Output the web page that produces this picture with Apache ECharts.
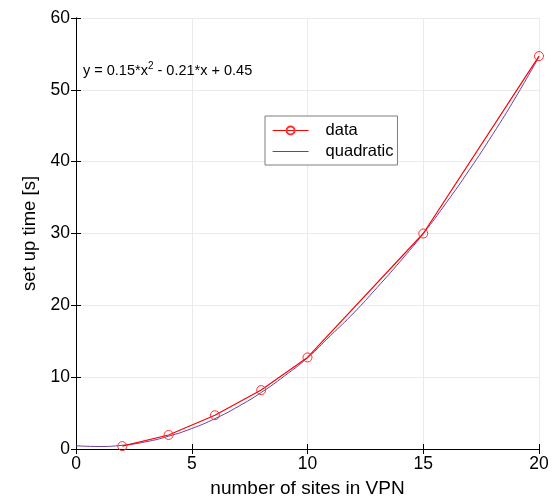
<!DOCTYPE html>
<html>
<head>
<meta charset="utf-8">
<script src="https://cdn.jsdelivr.net/npm/echarts@6/dist/echarts.min.js"></script>
<style>
  html, body { margin: 0; padding: 0; background: #fff; }
  #chart { width: 553px; height: 500px; }
</style>
</head>
<body>
<div id="chart"></div>
<script>
// measured points
var sites = [2, 4, 6, 8, 10, 15, 20];
var setupTime = [0.4, 1.95, 4.7, 8.2, 12.75, 30.0, 54.7];

// fitted curve
var fitX = [0, 1, 2, 3, 4, 5, 6, 7, 8, 9, 10, 11, 12, 13, 14, 15, 16, 17, 18, 19, 20];
var fitY = [0.45, 0.35, 0.52, 0.99, 1.78, 2.85, 4.22, 5.9, 7.86, 10.15, 12.7,
            15.8, 18.95, 22.45, 26.1, 29.98, 34.3, 38.9, 43.8, 49.0, 54.6];

var xTicks = [0, 20, 5];   // min, max, step
var yTicks = [0, 60, 10];

function pairs(xs, ys) {
	var out = [];
	for (var i = 0; i < xs.length; i++) out.push([xs[i], ys[i]]);
	return out;
}

var myChart = echarts.init(document.getElementById('chart'));
var font = 'Liberation Sans, Arial, sans-serif';

var axisCommon = {
	type: 'value',
	axisLine: { show: true, lineStyle: { color: '#000', width: 1 } },
	axisTick: { show: true, inside: true, length: 5, lineStyle: { color: '#000' } },
	splitLine: { show: false }
};

var option = {
	animation: false,
	backgroundColor: '#fff',
	title: {
		text: 'y = 0.15*x{sup|2} - 0.21*x + 0.45',
		left: 78,
		top: 56,
		textStyle: {
			fontFamily: font,
			fontSize: 14.5,
			fontWeight: 'normal',
			color: '#000',
			rich: {
				sup: { fontFamily: font, fontSize: 10, color: '#000', verticalAlign: 'top', padding: [0, 0, 9, 0] }
			}
		}
	},
	legend: {
		orient: 'vertical',
		left: 265,
		top: 116,
		padding: [6, 4, 5, 7],
		itemGap: 4,
		itemWidth: 36,
		itemHeight: 10,
		borderColor: '#7f7f7f',
		borderWidth: 1,
		borderRadius: 0,
		backgroundColor: '#fff',
		textStyle: { fontFamily: font, fontSize: 16.5, color: '#000', padding: [0, 0, 0, 12] },
		data: [
			{ name: 'data', lineStyle: { width: 1.2 } },
			{ name: 'quadratic', itemStyle: { opacity: 0 }, lineStyle: { width: 1 } }
		]
	},
	grid: { left: 76, right: 14, top: 18, bottom: 51, outerBoundsMode: 'none' },
	xAxis: [
		Object.assign({}, axisCommon, {
			min: xTicks[0], max: xTicks[1], interval: xTicks[2],
			position: 'bottom',
			name: 'number of sites in VPN',
			nameLocation: 'middle',
			nameGap: 30,
			nameTextStyle: { fontFamily: font, fontSize: 19, color: '#000' },
			axisLabel: { fontFamily: font, fontSize: 17.5, color: '#000', margin: 6 },
			splitLine: { show: true, lineStyle: { color: '#ebebeb' } }
		}),
		Object.assign({}, axisCommon, {
			min: xTicks[0], max: xTicks[1], interval: xTicks[2],
			position: 'top',
			axisLabel: { show: false }
		})
	],
	yAxis: [
		Object.assign({}, axisCommon, {
			min: yTicks[0], max: yTicks[1], interval: yTicks[2],
			position: 'left',
			name: 'set up time [s]',
			nameLocation: 'middle',
			nameGap: 34,
			nameTextStyle: { fontFamily: font, fontSize: 18.5, color: '#000' },
			axisLabel: { fontFamily: font, fontSize: 17.5, color: '#000', margin: 6 },
			splitLine: { show: true, lineStyle: { color: '#ebebeb' } }
		}),
		Object.assign({}, axisCommon, {
			min: yTicks[0], max: yTicks[1], interval: yTicks[2],
			position: 'right',
			axisLabel: { show: false }
		})
	],
	series: [
		{
			name: 'quadratic',
			type: 'line',
			data: pairs(fitX, fitY),
			smooth: true,
			showSymbol: false,
			symbol: 'none',
			color: '#6a3fa0',
			lineStyle: { width: 1, color: '#6a3fa0' },
			z: 2
		},
		{
			name: 'data',
			type: 'line',
			data: pairs(sites, setupTime),
			symbol: 'circle',
			symbolSize: 9,
			color: '#ff0000',
			lineStyle: { width: 1.2, color: '#ff0000' },
			itemStyle: { color: 'rgba(255,255,255,0)', borderColor: '#ff3030', borderWidth: 1 },
			z: 3
		}
	]
};

myChart.setOption(option);
</script>
</body>
</html>
